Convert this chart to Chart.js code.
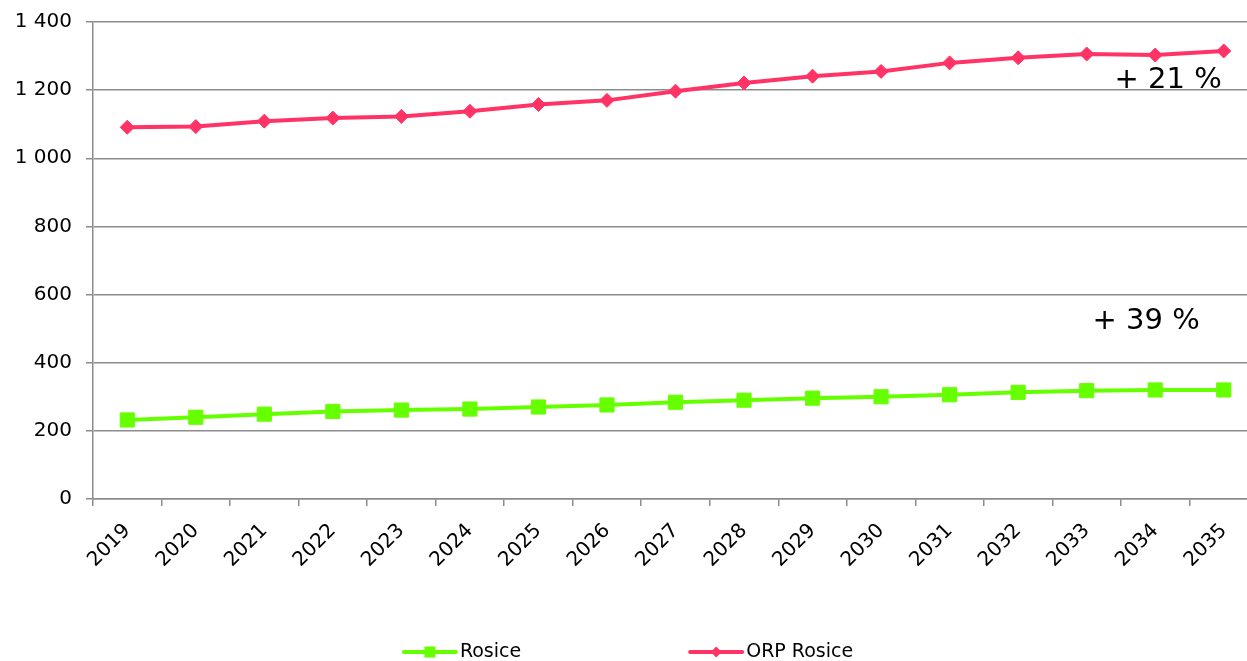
<!DOCTYPE html>
<html>
<head>
<meta charset="utf-8">
<script src="https://cdn.jsdelivr.net/npm/chart.js@4.4.1/dist/chart.umd.min.js"></script>
<style>
  html, body { margin: 0; padding: 0; background: #fff; overflow: hidden; }
  #wrap { width: 1247px; height: 661px; overflow: hidden; }
</style>
</head>
<body>
<div id="wrap"><canvas id="c" width="1258" height="661"></canvas></div>
<script>
const years = ["2019","2020","2021","2022","2023","2024","2025","2026","2027","2028","2029","2030","2031","2032","2033","2034","2035"];
const rosice = [232, 240, 249, 257, 261, 264, 270, 276, 284, 290, 296, 300, 306, 313, 318, 320, 320];
const orpRosice = [1091, 1093, 1109, 1118, 1123, 1138, 1158, 1170, 1197, 1221, 1241, 1255, 1280, 1295, 1306, 1303, 1315];
const seriesNames = ["Rosice", "ORP Rosice"];
const growthLabels = ["+ 21 %", "+ 39 %"];
const yTicks = [0, 200, 400, 600, 800, 1000, 1200, 1400];

const GREEN = '#66ff00';
const PINK = '#ff3366';
const GRID = '#8c8c8c';
const FONT = 'DejaVu Sans, Verdana, sans-serif';
const VIEW_W = 1247;

function fmt(v) {
  return String(v).replace(/\B(?=(\d{3})+(?!\d))/g, ' ');
}

const extras = {
  id: 'extras',
  afterDraw(chart) {
    const ctx = chart.ctx;
    const xs = chart.scales.x, ys = chart.scales.y;
    ctx.save();
    // growth annotations
    ctx.fillStyle = '#000';
    ctx.font = '29px ' + FONT;
    ctx.textAlign = 'right';
    ctx.textBaseline = 'alphabetic';
    const lastX = xs.getPixelForValue(years.length - 1);
    ctx.fillText(growthLabels[0], lastX - 2, ys.getPixelForValue(1200) - 2);
    ctx.fillText(growthLabels[1], lastX - 24, ys.getPixelForValue(500));
    // legend
    ctx.font = '19px ' + FONT;
    ctx.textAlign = 'left';
    ctx.textBaseline = 'middle';
    const ly = 652;
    const lineLen = 52, gapText = 4, itemGap = 169;
    const ds = chart.data.datasets;
    const widths = ds.map(d => lineLen + gapText + ctx.measureText(d.label).width);
    const total = widths.reduce((a, b) => a + b, 0) + itemGap * (ds.length - 1);
    let x = VIEW_W / 2 - total / 2 + 5;
    ds.forEach((d, i) => {
      ctx.strokeStyle = d.borderColor;
      ctx.lineWidth = 4;
      ctx.lineCap = 'round';
      ctx.beginPath();
      ctx.moveTo(x, ly);
      ctx.lineTo(x + lineLen, ly);
      ctx.stroke();
      ctx.fillStyle = d.borderColor;
      const cx = x + lineLen / 2;
      if (d.pointStyle === 'rect') {
        ctx.fillRect(cx - 5.5, ly - 5.5, 11, 11);
      } else {
        ctx.beginPath();
        ctx.moveTo(cx - 5.5, ly);
        ctx.lineTo(cx, ly - 5.5);
        ctx.lineTo(cx + 5.5, ly);
        ctx.lineTo(cx, ly + 5.5);
        ctx.closePath();
        ctx.fill();
      }
      ctx.fillStyle = '#000';
      ctx.fillText(d.label, x + lineLen + gapText, ly);
      x += widths[i] + itemGap;
    });
    ctx.restore();
  }
};

new Chart(document.getElementById('c'), {
  type: 'line',
  data: {
    labels: years,
    datasets: [
      {
        label: seriesNames[0],
        data: rosice,
        borderColor: GREEN,
        backgroundColor: GREEN,
        borderWidth: 4,
        pointStyle: 'rect',
        pointRadius: 10,
        pointBorderWidth: 1,
        pointHoverRadius: 10,
        tension: 0
      },
      {
        label: seriesNames[1],
        data: orpRosice,
        borderColor: PINK,
        backgroundColor: PINK,
        borderWidth: 4,
        pointStyle: 'rectRot',
        pointRadius: 7,
        pointBorderWidth: 1,
        pointHoverRadius: 7,
        tension: 0
      }
    ]
  },
  plugins: [extras],
  options: {
    responsive: false,
    animation: false,
    devicePixelRatio: 1,
    layout: { autoPadding: false, padding: { top: 22, right: 0, left: 0, bottom: 62 } },
    plugins: {
      legend: { display: false },
      tooltip: { enabled: false }
    },
    scales: {
      x: {
        offset: true,
        grid: {
          offset: true,
          drawOnChartArea: false,
          drawTicks: true,
          tickLength: 7,
          color: GRID,
          lineWidth: 1.5
        },
        border: { display: true, color: GRID, width: 1.5 },
        ticks: {
          color: '#000',
          font: { family: FONT, size: 20 },
          minRotation: 45,
          maxRotation: 45,
          autoSkip: false,
          padding: 13
        },
        afterFit(scale) {
          scale.height = 100;
          scale.paddingLeft = 0;
          scale.paddingRight = 0;
        }
      },
      y: {
        min: 0,
        max: 1400,
        afterBuildTicks(scale) {
          scale.ticks = yTicks.map(v => ({ value: v }));
        },
        grid: {
          color: GRID,
          lineWidth: 1.5,
          tickLength: 7
        },
        border: { display: true, color: GRID, width: 1.5 },
        ticks: {
          color: '#000',
          font: { family: FONT, size: 20 },
          padding: 14,
          callback: v => fmt(v)
        },
        afterFit(scale) {
          scale.width = 93;
          scale.paddingTop = 0;
          scale.paddingBottom = 0;
        }
      }
    }
  }
});
</script>
</body>
</html>
